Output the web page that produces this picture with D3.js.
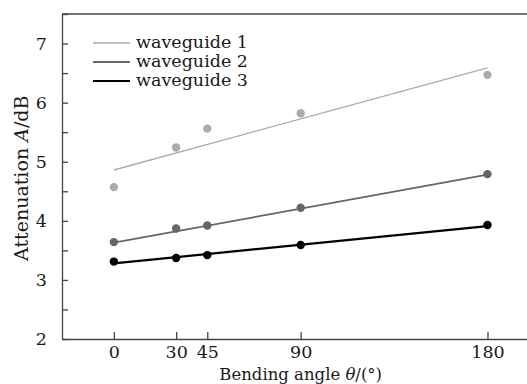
<!DOCTYPE html>
<html>
<head>
<meta charset="utf-8">
<script src="https://cdn.jsdelivr.net/npm/d3@7"></script>
<style>
  body { margin: 0; background: #fff; }
  svg { display: block; }
  .axis path, .axis line { stroke: #444; stroke-width: 1.3; }
  .axis text { font-family: "DejaVu Serif", serif; font-size: 17.5px; fill: #1a1a1a; }
</style>
</head>
<body>
<div id="chart"></div>
<script>
// bending angles (degrees)
var angles = [0, 30, 45, 90, 180];
// measured attenuation (dB)
var wg1 = [4.57, 5.24, 5.56, 5.82, 6.47];
var wg2 = [3.64, 3.87, 3.92, 4.22, 4.79];
var wg3 = [3.31, 3.37, 3.42, 3.59, 3.93];
// fitted line values at the ends (0 and 180 degrees)
var fitAngles = [0, 180];
var fit1 = [4.86, 6.59];
var fit2 = [3.63, 4.78];
var fit3 = [3.28, 3.91];
var seriesNames = ["waveguide 1", "waveguide 2", "waveguide 3"];
var xTicks = [0, 30, 45, 90, 180];
var yTicks = [2, 3, 4, 5, 6, 7];
var yMinorTicks = [2.5, 3.5, 4.5, 5.5, 6.5, 7.5];

var margin = {top: 14, right: -2, bottom: 45, left: 62},
    width = 527 - margin.left - margin.right,
    height = 384 - margin.top - margin.bottom;

var x = d3.scaleLinear().domain([-25, 200]).range([0, width]);
var y = d3.scaleLinear().domain([2, 7.5]).range([height, 0]);

var colors = ["#ababab", "#666666", "#000000"];
var widths = [1.3, 1.8, 2.2];

var svg = d3.select("#chart").append("svg")
    .attr("width", 527)
    .attr("height", 384)
    .append("g")
    .attr("transform", "translate(" + margin.left + "," + margin.top + ")");

// frame top line
svg.append("line")
    .attr("x1", 0).attr("x2", width)
    .attr("y1", 0).attr("y2", 0)
    .attr("stroke", "#444").attr("stroke-width", 1.5);

var xAxis = d3.axisBottom(x).tickValues(xTicks)
    .tickFormat(d3.format("d"))
    .tickSizeInner(-7).tickSizeOuter(0).tickPadding(7);
svg.append("g")
    .attr("class", "x axis")
    .attr("transform", "translate(0," + height + ")")
    .call(xAxis);

var yAxis = d3.axisLeft(y).tickValues(yTicks)
    .tickFormat(d3.format("d"))
    .tickSizeInner(-6).tickSizeOuter(0).tickPadding(15);
svg.append("g")
    .attr("class", "y axis")
    .call(yAxis);

svg.append("g")
    .attr("class", "y axis minor")
    .call(d3.axisLeft(y).tickValues(yMinorTicks).tickSizeInner(-6).tickSizeOuter(0).tickFormat(""))
    .select(".domain").remove();

// axis titles
svg.append("text")
    .attr("x", x(90))
    .attr("y", height + 41)
    .attr("text-anchor", "middle")
    .style("font-family", "DejaVu Serif, serif")
    .style("font-size", "16.5px")
    .attr("fill", "#1a1a1a")
    .html('Bending angle <tspan font-style="italic">θ</tspan>/(°)');

svg.append("text")
    .attr("transform", "translate(" + (-34) + "," + y(4.72) + ") rotate(-90)")
    .attr("text-anchor", "middle")
    .style("font-family", "DejaVu Serif, serif")
    .style("font-size", "19px")
    .attr("fill", "#1a1a1a")
    .html('Attenuation <tspan font-style="italic">A</tspan>/dB');

var data = [wg1, wg2, wg3];
var fits = [fit1, fit2, fit3];

var line = d3.line()
    .x(function(d) { return x(d[0]); })
    .y(function(d) { return y(d[1]); });

fits.forEach(function(f, i) {
    svg.append("path")
        .attr("fill", "none")
        .attr("stroke", colors[i])
        .attr("stroke-width", widths[i])
        .attr("d", line(fitAngles.map(function(a, j) { return [a, f[j]]; })));
});

data.forEach(function(s, i) {
    svg.selectAll(".pt" + i)
        .data(s)
        .enter().append("circle")
        .attr("class", "pt" + i)
        .attr("cx", function(d, j) { return x(angles[j]); })
        .attr("cy", function(d) { return y(d); })
        .attr("r", 4.2)
        .attr("fill", colors[i]);
});

// legend
var legend = svg.append("g").attr("transform", "translate(31,29)");
seriesNames.forEach(function(name, i) {
    var g = legend.append("g").attr("transform", "translate(0," + (i * 19) + ")");
    g.append("line")
        .attr("x1", 0).attr("x2", 37)
        .attr("stroke", colors[i])
        .attr("stroke-width", widths[i]);
    g.append("text")
        .attr("x", 43)
        .attr("y", 5)
        .style("font-family", "DejaVu Serif, serif")
        .style("font-size", "17.5px")
        .attr("fill", "#1a1a1a")
        .text(name);
});
</script>
</body>
</html>
